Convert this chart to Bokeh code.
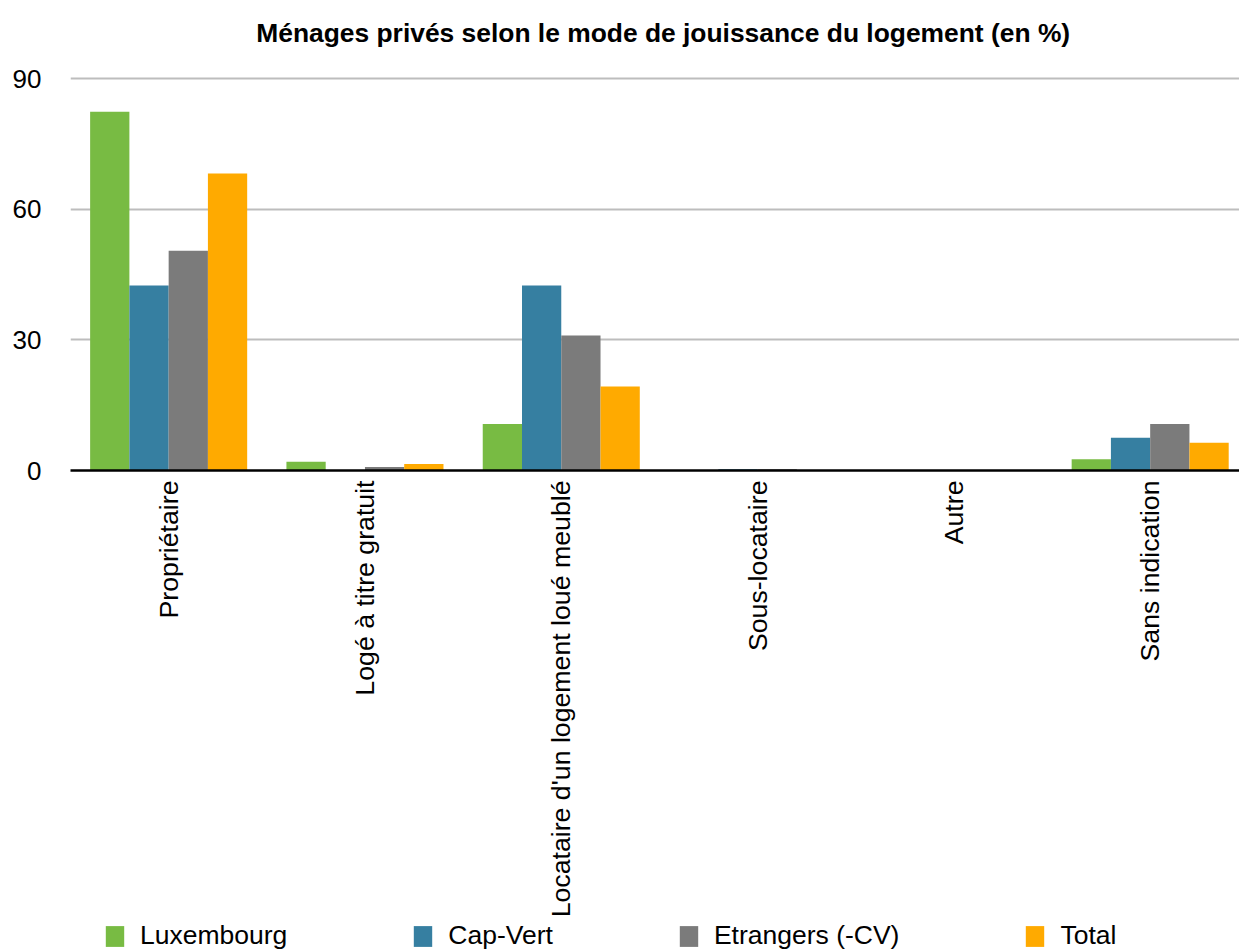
import math
from bokeh.plotting import figure
from bokeh.layouts import column
from bokeh.models import Range1d, FixedTicker, Legend, LegendItem, ColumnDataSource
from bokeh.core.properties import value
from bokeh.transform import dodge
from bokeh.embed import file_html
from bokeh.resources import INLINE

title_text = "Ménages privés selon le mode de jouissance du logement (en %)"
categories = ["Propriétaire", "Logé à titre gratuit", "Locataire d'un logement loué meublé",
              "Sous-locataire", "Autre", "Sans indication"]
series_names = ["Luxembourg", "Cap-Vert", "Etrangers (-CV)", "Total"]
luxembourg = [82.4, 2.0, 10.7, 0.1, 0.0, 2.6]
cap_vert = [42.5, 0.0, 42.5, 0.3, 0.0, 7.5]
etrangers = [50.5, 0.8, 31.0, 0.3, 0.0, 10.7]
total = [68.2, 1.5, 19.3, 0.1, 0.0, 6.4]
y_ticks = [0, 30, 60, 90]
colors = ["#78BB43", "#367FA1", "#7B7B7B", "#FFAA00"]
FONT = "Liberation Sans"

xpos = [i + 0.5 for i in range(len(categories))]
source = ColumnDataSource(dict(x=xpos, lux=luxembourg, cv=cap_vert, etr=etrangers, tot=total))

# title strip
pt = figure(x_range=Range1d(0, 1), y_range=Range1d(0, 60), width=1239, height=60,
            output_backend="svg", toolbar_location=None,
            min_border_left=0, min_border_right=0, min_border_top=0, min_border_bottom=0)
pt.axis.visible = False
pt.grid.visible = False
pt.outline_line_color = None
pt.text(x=[0.507], y=[28], text=[title_text], text_font=value(FONT), text_font_size="26.4px",
        text_font_style="bold", text_color="black", text_align="center", text_baseline="middle")

# main chart
p = figure(x_range=Range1d(0, 5.955), y_range=Range1d(0, 90.5),
           width=1239, height=861, output_backend="svg", toolbar_location=None,
           min_border_left=70, min_border_right=0, min_border_top=16, min_border_bottom=451)
p.outline_line_color = None

renderers = []
for key, off, col in zip(["lux", "cv", "etr", "tot"], [-0.3, -0.1, 0.1, 0.3], colors):
    r = p.vbar(x=dodge("x", off), top=key, width=0.2, source=source,
               fill_color=col, line_color=None)
    renderers.append(r)

p.xgrid.grid_line_color = None
p.ygrid.ticker = FixedTicker(ticks=y_ticks)
p.ygrid.grid_line_color = "#BDBDBD"
p.ygrid.grid_line_width = 2

p.yaxis.ticker = FixedTicker(ticks=y_ticks)
p.yaxis.axis_line_color = None
p.yaxis.major_tick_line_color = None
p.yaxis.minor_tick_line_color = None
p.yaxis.major_label_standoff = 23
p.yaxis.major_label_text_font = FONT
p.yaxis.major_label_text_font_size = "26px"
p.yaxis.major_label_text_color = "black"

p.xaxis.ticker = FixedTicker(ticks=xpos)
p.xaxis.major_label_overrides = {x: c for x, c in zip(xpos, categories)}
p.xaxis.axis_line_color = "black"
p.xaxis.axis_line_width = 2.5
p.xaxis.major_tick_line_color = None
p.xaxis.minor_tick_line_color = None
p.xaxis.major_tick_out = 0
p.xaxis.major_tick_in = 0
p.xaxis.major_label_orientation = math.pi / 2
p.xaxis.major_label_standoff = 10
p.xaxis.major_label_text_font = FONT
p.xaxis.major_label_text_font_size = "26.7px"
p.xaxis.major_label_text_color = "black"

# legend strip below the axis labels
pl = figure(x_range=Range1d(0, 1), y_range=Range1d(0, 1), width=1239, height=30,
            output_backend="svg", toolbar_location=None,
            min_border_left=0, min_border_right=0, min_border_top=0, min_border_bottom=0)
pl.axis.visible = False
pl.grid.visible = False
pl.outline_line_color = None
leg_renderers = [pl.vbar(x=[-5], top=[0], width=0.1, fill_color=c, line_color=None) for c in colors]
legend = Legend(items=[LegendItem(label=n, renderers=[r]) for n, r in zip(series_names, leg_renderers)],
                orientation="horizontal", location=(33, 0))
legend.border_line_color = None
legend.background_fill_alpha = 0
legend.margin = 0
legend.padding = 0
legend.spacing = 124
legend.label_standoff = 14
legend.glyph_width = 23
legend.glyph_height = 26
legend.label_text_font = FONT
legend.label_text_font_size = "26.5px"
legend.label_text_color = "black"
pl.add_layout(legend, "center")

layout = column(pt, p, pl, spacing=0)
open("out.html", "w").write(file_html(layout, INLINE))
